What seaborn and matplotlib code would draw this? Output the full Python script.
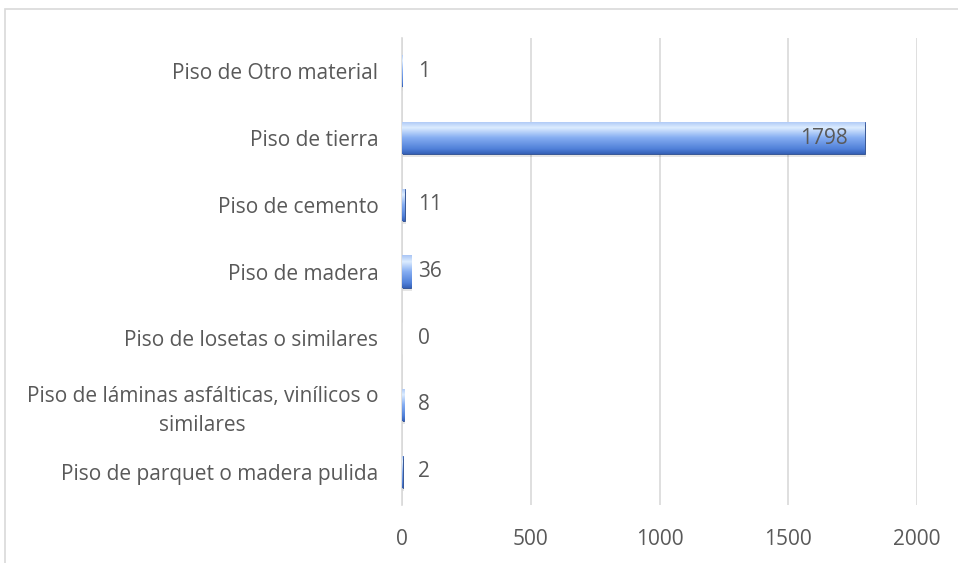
import numpy as np
import pandas as pd
import matplotlib
matplotlib.use("Agg")
import matplotlib.pyplot as plt
import seaborn as sns
from matplotlib.patches import Rectangle
from matplotlib.colors import LinearSegmentedColormap

categories = [
    "Piso de Otro material",
    "Piso de tierra",
    "Piso de cemento",
    "Piso de madera",
    "Piso de losetas o similares",
    "Piso de láminas asfálticas, vinílicos o\nsimilares",
    "Piso de parquet o madera pulida",
]
values = [1, 1798, 11, 36, 0, 8, 2]
xticks = [0, 500, 1000, 1500, 2000]

sns.set_theme(style="white")
plt.rcParams['font.family'] = ['Open Sans', 'DejaVu Sans']
txt = "#595959"
fs = 15

df = pd.DataFrame({"cat": categories, "val": values})

fig = plt.figure(figsize=(9.58, 5.63), dpi=100)
fig.patches.append(Rectangle((5/958, -0.1), 1.2, 1 - 9/563 + 0.1, transform=fig.transFigure,
                             fill=False, edgecolor="#d9d9d9", linewidth=1.2))
ax = fig.add_axes([402/958, 1 - 505/563, (917 - 402)/958, (505 - 38)/563])

sns.barplot(data=df, y="cat", x="val", orient="h", color="#4472c4", width=0.48, ax=ax)

cmap = LinearSegmentedColormap.from_list("g", [(0, "#a9c5f5"), (0.2, "#dcecff"), (0.5, "#86aef2"),
                                               (0.85, "#4f7fd8"), (1.0, "#3560b5")])
grad = np.linspace(0, 1, 256).reshape(-1, 1)
for p in ax.patches:
    x0, y0 = p.get_x(), p.get_y()
    w, h = p.get_width(), p.get_height()
    if w <= 0:
        continue
    ax.add_patch(Rectangle((x0, y0 + h * 0.1), w + 4, h, facecolor="#000000", alpha=0.10,
                           edgecolor="none", zorder=1))
    im = ax.imshow(grad, extent=[x0, x0 + w, y0 + h, y0], aspect="auto", cmap=cmap, zorder=3)
    im.set_clip_path(p)
    p.set_edgecolor("#2f55a0")
    p.set_linewidth(0.6)

ax.set_xlim(0, 2000)
ax.set_ylim(len(categories) - 0.5, -0.5)
ax.set_xticks(xticks)
ax.set_xticklabels([str(t) for t in xticks])
ax.xaxis.grid(True, color="#d9d9d9", linewidth=1.2)
ax.set_axisbelow(True)
for s in ["top", "right", "bottom"]:
    ax.spines[s].set_visible(False)
ax.spines["left"].set_color("#d9d9d9")
ax.spines["left"].set_linewidth(1.2)
ax.tick_params(axis="both", length=0, colors=txt, labelsize=fs)
ax.tick_params(axis="x", pad=17)
ax.tick_params(axis="y", pad=17)
for lab in ax.get_yticklabels():
    lab.set_multialignment("center")
    lab.set_linespacing(1.45)
ax.set_xlabel("")
ax.set_ylabel("")

for i, v in enumerate(values):
    if v > 500:
        ax.annotate(str(v), (v, i), xytext=(-17, 0), textcoords="offset pixels",
                    ha="right", va="center", color=txt, fontsize=fs, zorder=5)
    else:
        ax.annotate(str(v), (0, i), xytext=(16, 0), textcoords="offset pixels",
                    ha="left", va="center", color=txt, fontsize=fs, zorder=5)

fig.savefig("out.png", dpi=100)
